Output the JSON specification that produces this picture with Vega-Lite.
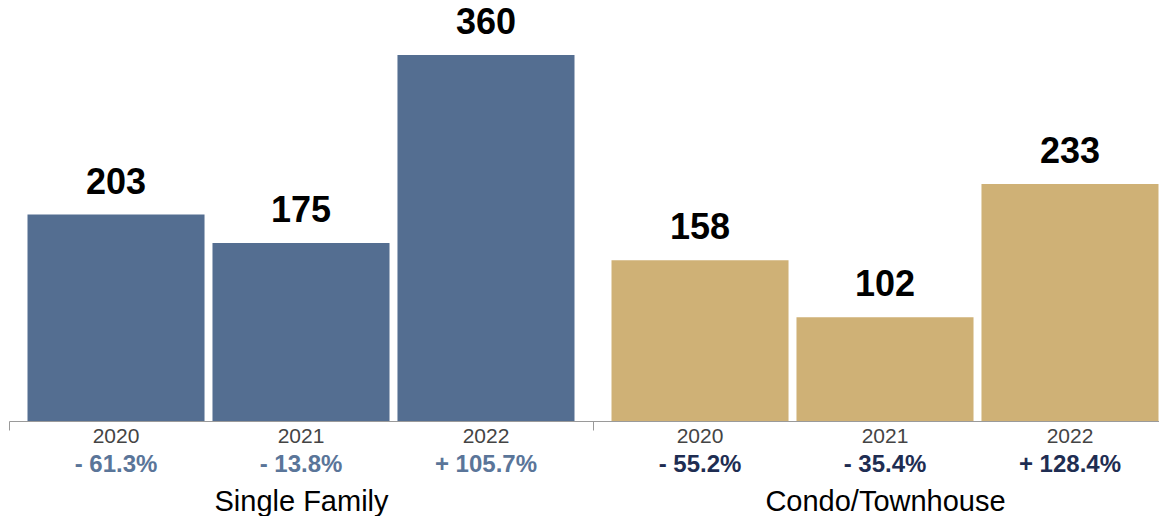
{
  "$schema": "https://vega.github.io/schema/vega-lite/v6.json",
  "width": 1168,
  "height": 421,
  "padding": {"left": 8, "top": 0, "right": 0, "bottom": 0},
  "background": "white",
  "config": {"view": {"stroke": null}, "font": "Liberation Sans"},
  "data": {"values": [
    {"group": "Single Family", "year": "2020", "value": 203, "pct": "- 61.3%"},
    {"group": "Single Family", "year": "2021", "value": 175, "pct": "- 13.8%"},
    {"group": "Single Family", "year": "2022", "value": 360, "pct": "+ 105.7%"},
    {"group": "Condo/Townhouse", "year": "2020", "value": 158, "pct": "- 55.2%"},
    {"group": "Condo/Townhouse", "year": "2021", "value": 102, "pct": "- 35.4%"},
    {"group": "Condo/Townhouse", "year": "2022", "value": 233, "pct": "+ 128.4%"}
  ]},
  "encoding": {
    "x": {"field": "group", "type": "nominal", "sort": ["Single Family", "Condo/Townhouse"],
      "scale": {"paddingInner": 0, "paddingOuter": 0},
      "axis": {"title": null, "labelAngle": 0, "labelFontSize": 29, "labelColor": "#000000", "labelFont": "Liberation Sans", "labelLimit": 0,
        "tickBand": "extent", "tickSize": 9, "tickColor": "#9a9a9a", "domainColor": "#9a9a9a", "labelBaseline": "alphabetic", "labelPadding": 80}},
    "xOffset": {"field": "year", "type": "nominal", "scale": {"paddingInner": 0.043, "paddingOuter": 0.1}}
  },
  "layer": [
    {
      "mark": {"type": "bar"},
      "encoding": {
        "y": {"field": "value", "type": "quantitative", "scale": {"domain": [0, 414], "nice": false, "zero": true}, "axis": null},
        "color": {"field": "group", "type": "nominal", "scale": {"domain": ["Single Family", "Condo/Townhouse"], "range": ["#546e91", "#cfb176"]}, "legend": null}
      }
    },
    {
      "mark": {"type": "text", "fontSize": 36, "fontWeight": "bold", "color": "#000000", "baseline": "alphabetic", "dy": -21},
      "encoding": {
        "y": {"field": "value", "type": "quantitative"},
        "text": {"field": "value", "type": "quantitative"}
      }
    },
    {
      "mark": {"type": "text", "fontSize": 21, "color": "#444444", "baseline": "alphabetic", "dy": 22},
      "encoding": {
        "y": {"datum": 0},
        "text": {"field": "year"}
      }
    },
    {
      "mark": {"type": "text", "fontSize": 24, "fontWeight": "bold", "baseline": "alphabetic", "dy": 51},
      "encoding": {
        "y": {"datum": 0},
        "text": {"field": "pct"},
        "color": {"field": "group", "type": "nominal", "scale": {"domain": ["Single Family", "Condo/Townhouse"], "range": ["#5a7599", "#1e2d52"]}, "legend": null}
      }
    }
  ],
  "resolve": {"scale": {"color": "independent"}}
}
